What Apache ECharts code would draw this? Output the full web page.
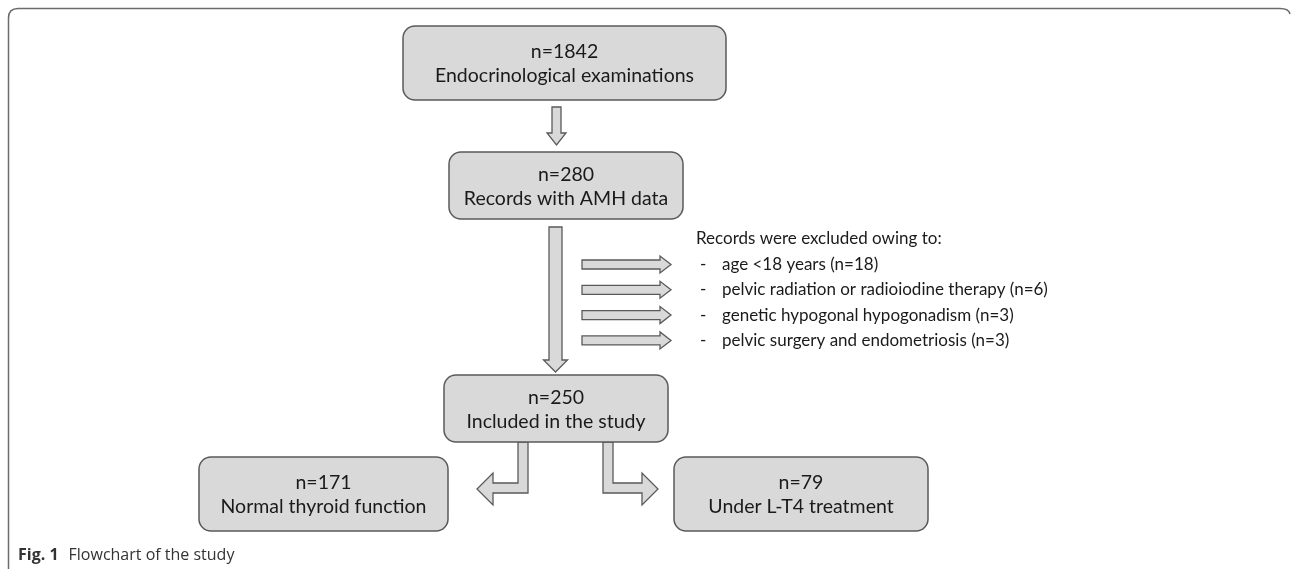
<!DOCTYPE html>
<html>
<head>
<meta charset="utf-8">
<script src="https://cdn.jsdelivr.net/npm/echarts@6/dist/echarts.min.js"></script>
<style>
  html, body { margin: 0; padding: 0; background: #fff; }
  #chart { width: 1293px; height: 571px; }
</style>
</head>
<body>
<div id="chart"></div>
<script>
// ---- data ----
const nodeCounts = [1842, 280, 250, 171, 79];
const nodeLabels = [
  'Endocrinological examinations',
  'Records with AMH data',
  'Included in the study',
  'Normal thyroid function',
  'Under L-T4 treatment'
];
const exclusionTitle = 'Records were excluded owing to:';
const exclusionReasons = [
  'age <18 years',
  'pelvic radiation or radioiodine therapy',
  'genetic hypogonal hypogonadism',
  'pelvic surgery and endometriosis'
];
const exclusionCounts = [18, 6, 3, 3];
const captionBold = 'Fig. 1';
const captionText = 'Flowchart of the study';

// ---- layout (pixel-like coordinate space of the hidden axes) ----
const boxLayout = [
  { x0: 403, y0: 26,  x1: 726, y1: 100 },
  { x0: 449, y0: 152, x1: 683, y1: 219 },
  { x0: 444, y0: 375, x1: 668, y1: 442 },
  { x0: 199, y0: 457, x1: 448, y1: 531 },
  { x0: 674, y0: 457, x1: 928, y1: 531 }
];
const rowY0 = 264.5, rowStep = 25.3, titleY = 239;
const textX = 722, dashX = 700, titleX = 696;

function downArrow(cx, y0, yh, yt, sw, hw) {
  return [[cx - sw, y0], [cx + sw, y0], [cx + sw, yh], [cx + hw, yh], [cx, yt], [cx - hw, yh], [cx - sw, yh]];
}
function rightArrow(cy, x0, xh, xt, sw, hw) {
  return [[x0, cy - sw], [xh, cy - sw], [xh, cy - hw], [xt, cy], [xh, cy + hw], [xh, cy + sw], [x0, cy + sw]];
}
const arrowShapes = [
  downArrow(556.5, 107, 133, 145, 4.5, 9.5),
  downArrow(555.5, 227, 360, 372, 6.5, 12)
];
exclusionCounts.forEach((c, i) => {
  arrowShapes.push(rightArrow(rowY0 + i * rowStep, 582, 660, 671, 4.5, 8.5));
});
arrowShapes.push([[603, 442], [613, 442], [613, 483], [642, 483], [642, 473], [658, 489], [642, 505], [642, 493], [603, 493]]);
arrowShapes.push([[528, 442], [518, 442], [518, 483], [493, 483], [493, 473], [477, 489], [493, 505], [493, 493], [528, 493]]);

const FILL = '#d9d9d9', STROKE = '#5a5a5a';
const boxFont = '19.5px Lato';
const listFont = '17px Lato';

const chart = echarts.init(document.getElementById('chart'), null, { renderer: 'canvas' });

chart.setOption({
  animation: false,
  backgroundColor: '#ffffff',
  grid: { left: 0, top: 0, width: 1293, height: 571 },
  xAxis: { type: 'value', min: 0, max: 1293, show: false },
  yAxis: { type: 'value', min: 0, max: 571, inverse: true, show: false },
  title: {
    left: 18, top: 546, padding: 0,
    text: '{b|' + captionBold + '}  {r|' + captionText + '}',
    textStyle: {
      fontWeight: 'normal',
      rich: {
        b: { fontFamily: 'Open Sans', fontWeight: 'bold', fontSize: 16, color: '#333' },
        r: { fontFamily: 'Open Sans', fontWeight: 'normal', fontSize: 16, color: '#333' }
      }
    }
  },
  series: [
    {
      type: 'custom',
      name: 'frame',
      coordinateSystem: 'cartesian2d',
      silent: true,
      data: [[0, 0]],
      renderItem: function (params, api) {
        const a = api.coord([8.5, 569]);
        const b = api.coord([8.5, 18]);
        const c = api.coord([18, 8.5]);
        const d = api.coord([1280, 8.5]);
        const e = api.coord([1290, 14]);
        const k = api.coord([8.5, 8.5]);
        const m = api.coord([1289, 8.5]);
        return {
          type: 'path',
          shape: {
            pathData: 'M ' + a[0] + ' ' + a[1] + ' L ' + b[0] + ' ' + b[1] +
              ' Q ' + k[0] + ' ' + k[1] + ' ' + c[0] + ' ' + c[1] +
              ' L ' + d[0] + ' ' + d[1] + ' Q ' + m[0] + ' ' + m[1] + ' ' + e[0] + ' ' + e[1]
          },
          style: { fill: 'none', stroke: '#6b6b6b', lineWidth: 1.5 }
        };
      }
    },
    {
      type: 'custom',
      name: 'arrows',
      coordinateSystem: 'cartesian2d',
      data: arrowShapes.map((pts, i) => [pts[0][0], pts[0][1], i]),
      renderItem: function (params, api) {
        const pts = arrowShapes[params.dataIndex].map(p => api.coord(p));
        return {
          type: 'polygon',
          shape: { points: pts },
          style: { fill: FILL, stroke: STROKE, lineWidth: 1.3, lineJoin: 'miter' }
        };
      }
    },
    {
      type: 'custom',
      name: 'boxes',
      coordinateSystem: 'cartesian2d',
      data: boxLayout.map((L, i) => [(L.x0 + L.x1) / 2, (L.y0 + L.y1) / 2, nodeCounts[i]]),
      renderItem: function (params, api) {
        const i = params.dataIndex;
        const L = boxLayout[i];
        const p0 = api.coord([L.x0, L.y0]);
        const p1 = api.coord([L.x1, L.y1]);
        return {
          type: 'group',
          children: [
            {
              type: 'rect',
              shape: { x: p0[0], y: p0[1], width: p1[0] - p0[0], height: p1[1] - p0[1], r: 12 },
              style: { fill: FILL, stroke: STROKE, lineWidth: 1.5 }
            },
            {
              type: 'text',
              style: {
                text: 'n=' + nodeCounts[i] + '\n' + nodeLabels[i],
                x: (p0[0] + p1[0]) / 2,
                y: (p0[1] + p1[1]) / 2 + 1,
                align: 'center',
                verticalAlign: 'middle',
                font: boxFont,
                lineHeight: 24,
                fill: '#1a1a1a'
              }
            }
          ]
        };
      }
    },
    {
      type: 'custom',
      name: 'exclusions',
      coordinateSystem: 'cartesian2d',
      data: exclusionCounts.map((c, i) => [textX, rowY0 + i * rowStep, c]),
      renderItem: function (params, api) {
        const i = params.dataIndex;
        const p = api.coord([textX, rowY0 + i * rowStep]);
        const pd = api.coord([dashX, rowY0 + i * rowStep]);
        const children = [
          { type: 'text', style: { text: '-', x: pd[0], y: pd[1], verticalAlign: 'middle', font: listFont, fill: '#1a1a1a' } },
          { type: 'text', style: { text: exclusionReasons[i] + ' (n=' + exclusionCounts[i] + ')', x: p[0], y: p[1], verticalAlign: 'middle', font: listFont, fill: '#1a1a1a' } }
        ];
        if (i === 0) {
          const pt = api.coord([titleX, titleY]);
          children.push({ type: 'text', style: { text: exclusionTitle, x: pt[0], y: pt[1], verticalAlign: 'middle', font: listFont, fill: '#1a1a1a' } });
        }
        return { type: 'group', children: children };
      }
    }
  ]
});
</script>
</body>
</html>
